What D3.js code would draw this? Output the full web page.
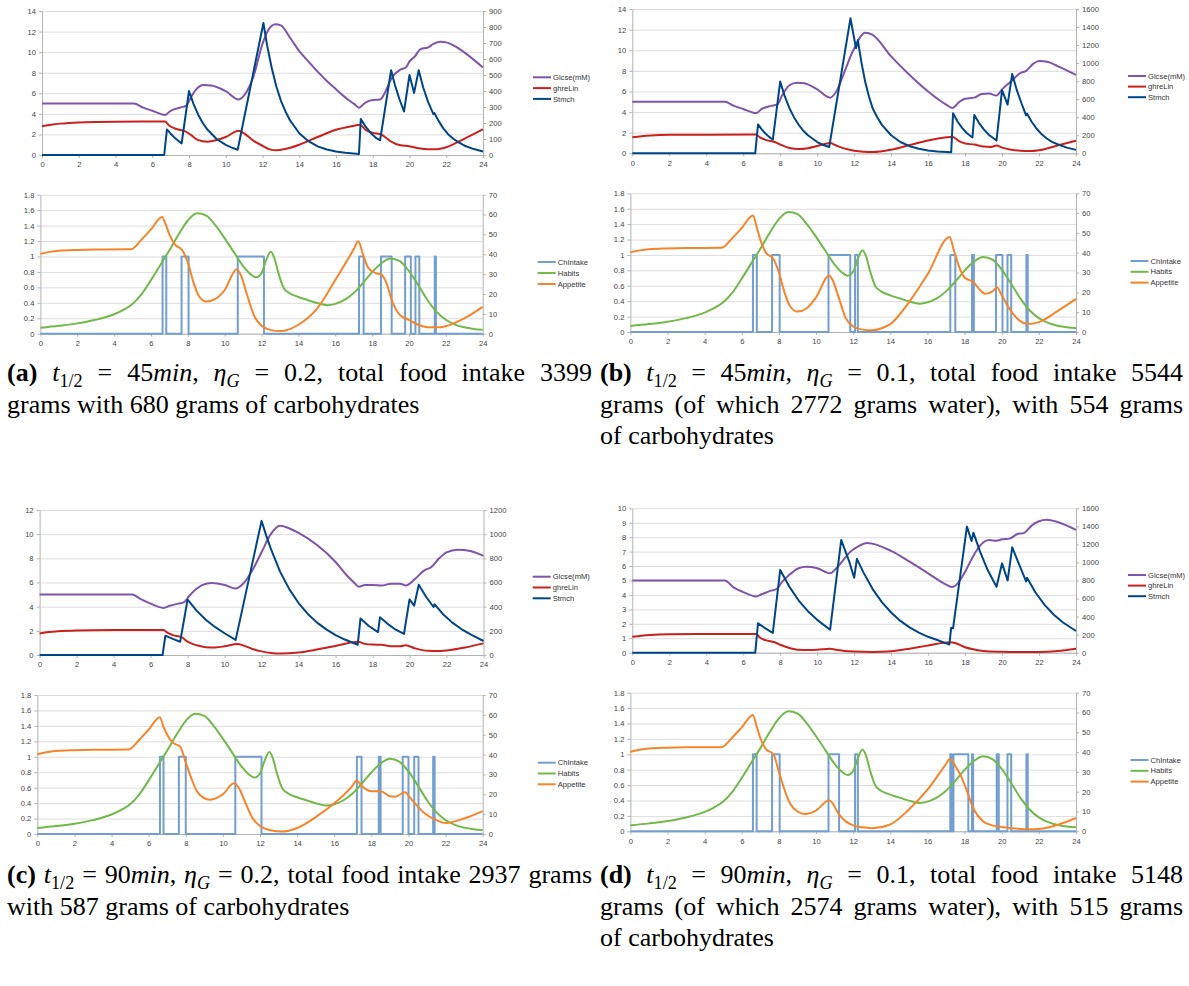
<!DOCTYPE html>
<html>
<head>
<meta charset="utf-8">
<script src="https://cdn.jsdelivr.net/npm/d3@7"></script>
<style>
  body { margin: 0; background: #fff; }
  svg { display: block; }
</style>
</head>
<body>
<svg id="fig" width="1189" height="986"></svg>
<script>
// ---- data (hours, value) ----
var hours = [0, 2, 4, 6, 8, 10, 12, 14, 16, 18, 20, 22, 24];

// axis maxima / steps per panel (a, b, c, d)
var topLeftMax = [14, 14, 12, 10], topLeftStep = [2, 2, 2, 1];
var topRightMax = [900, 1600, 1200, 1600], topRightStep = [100, 200, 200, 200];
var botLeftMax = 1.8, botLeftStep = 0.2, botRightMax = 70, botRightStep = 10;

var topNames = ["Glcse(mM)", "ghreLin", "Stmch"];
var botNames = ["ChIntake", "Habits", "Appetite"];

var glcseA = [[0,5],[5,5],[5.5,4.6],[6,4.3],[6.7,3.9],[7,4.3],[7.5,4.6],[7.85,4.8],[8.1,5.6],[8.4,6.4],[8.8,6.8],[9.2,6.75],[10,6.2],[10.7,5.4],[11,5.8],[11.5,7.6],[12,10.8],[12.3,12.1],[12.7,12.7],[13,12.6],[13.5,11.4],[14,10.1],[14.5,9.1],[15,8.1],[15.5,7.2],[16,6.4],[16.5,5.6],[17,4.95],[17.25,4.6],[17.6,5.1],[18,5.35],[18.4,5.4],[18.7,6.2],[19,7.4],[19.5,8.3],[19.8,8.5],[20,9.1],[20.3,9.6],[20.6,10.3],[21,10.45],[21.3,10.8],[21.7,11.0],[22,10.95],[22.5,10.55],[23,9.95],[24,8.5]];
var ghrelinA = [[0,2.8],[0.5,2.95],[1,3.05],[2,3.17],[3,3.22],[4,3.24],[6.7,3.25],[6.9,2.9],[7.2,2.6],[7.6,2.4],[7.8,2.3],[8.1,1.95],[8.5,1.45],[9,1.3],[9.5,1.45],[10,1.75],[10.7,2.35],[11,2.1],[11.5,1.4],[12,0.9],[12.4,0.55],[12.7,0.45],[13,0.5],[13.5,0.7],[14,1.0],[15,1.75],[16,2.45],[17,2.85],[17.3,2.95],[17.6,2.45],[18,2.15],[18.4,2.05],[18.7,1.7],[19,1.3],[19.5,0.95],[20,0.85],[20.5,0.65],[21,0.55],[21.4,0.55],[22,0.75],[23,1.6],[24,2.5]];
var stmchA = [[0,0],[6.65,0],[6.8,160],[7.0,133],[7.2,110],[7.4,91],[7.6,72],[8.0,400],[8.25,318],[8.5,252],[8.75,200],[9,159],[9.5,100],[10,63],[10.3,48],[10.65,33],[12.05,825],[12.25,686],[12.5,545],[12.75,430],[13,340],[13.25,272],[13.5,216],[14,136],[14.5,86],[15,54],[15.5,34],[16,22],[16.5,14],[17.25,7],[17.35,225],[17.6,179],[17.9,136],[18.2,105],[18.4,92],[19.0,530],[19.2,440],[19.45,350],[19.7,272],[20.0,500],[20.25,388],[20.5,530],[20.75,420],[21.0,335],[21.3,255],[21.35,262],[21.6,210],[21.85,165],[22.1,130],[22.4,100],[22.7,77],[23,58],[23.5,37],[24,22]];

var glcseB = [[0,5],[5,5],[5.5,4.6],[6,4.3],[6.7,3.9],[7,4.3],[7.5,4.6],[7.85,4.75],[8.1,5.6],[8.5,6.6],[8.9,6.85],[9.3,6.8],[10,6.2],[10.7,5.4],[11,5.9],[11.5,8.0],[11.9,9.8],[12.1,10.5],[12.3,11.2],[12.6,11.7],[13,11.5],[14,9.4],[15,7.6],[16,6.0],[17,4.7],[17.3,4.4],[17.7,5.0],[18,5.3],[18.5,5.4],[18.9,5.75],[19.3,5.8],[19.7,5.6],[20,6.2],[20.5,7.0],[21,7.8],[21.3,8.0],[21.7,8.7],[22,8.95],[22.5,8.85],[23,8.45],[24,7.6]];
var ghrelinB = [[0,1.55],[0.5,1.65],[1,1.72],[2,1.79],[4,1.81],[6.7,1.82],[6.9,1.55],[7.2,1.3],[7.7,1.1],[8,0.85],[8.5,0.52],[9,0.42],[9.5,0.5],[10,0.7],[10.7,1.0],[11,0.78],[11.5,0.45],[12,0.25],[12.5,0.15],[13,0.12],[14,0.35],[15,0.8],[16,1.25],[17,1.55],[17.3,1.6],[17.7,1.15],[18,0.95],[18.5,0.85],[19,0.65],[19.4,0.62],[19.7,0.75],[20,0.55],[20.5,0.35],[21,0.25],[21.5,0.22],[22,0.3],[23,0.75],[24,1.22]];
var stmchB = [[0,0],[6.65,0],[6.8,320],[7.0,265],[7.2,220],[7.4,182],[7.6,150],[8.0,795],[8.25,630],[8.5,500],[8.75,398],[9,316],[9.25,250],[9.5,200],[10,125],[10.3,95],[10.65,70],[11.8,1497],[12.1,1165],[12.2,1255],[12.4,1000],[12.6,790],[12.8,630],[13,500],[13.25,400],[13.5,315],[14,200],[14.5,125],[15,79],[15.5,50],[16,31],[16.5,20],[17.25,11],[17.35,443],[17.6,350],[17.85,280],[18.1,222],[18.4,175],[18.5,425],[18.75,338],[19,268],[19.3,203],[19.7,142],[20.0,700],[20.3,540],[20.55,880],[20.8,700],[21.05,555],[21.3,420],[21.35,440],[21.6,350],[21.85,278],[22.1,220],[22.4,167],[22.7,126],[23,100],[23.5,63],[24,38]];

var glcseC = [[0,5],[5,5],[5.5,4.6],[6,4.25],[6.7,3.9],[7,4.05],[7.5,4.25],[7.8,4.35],[8.1,4.9],[8.5,5.5],[9,5.9],[9.3,5.95],[10,5.8],[10.6,5.5],[11,5.9],[11.5,7.0],[12,8.5],[12.5,10.0],[13,10.7],[13.3,10.6],[14,10.1],[15,9.1],[16,7.7],[16.6,6.6],[17,6.0],[17.25,5.65],[17.6,5.8],[18,5.8],[18.5,5.75],[19,5.9],[19.5,5.9],[19.8,5.75],[20.3,6.3],[20.8,7.0],[21.2,7.3],[21.6,8.0],[22,8.5],[22.6,8.72],[23.3,8.6],[24,8.2]];
var ghrelinC = [[0,1.78],[0.5,1.9],[1,1.97],[2,2.03],[4,2.06],[6.7,2.07],[6.9,1.85],[7.2,1.65],[7.7,1.45],[8,1.1],[8.5,0.8],[9,0.65],[9.5,0.63],[10,0.72],[10.7,0.92],[11,0.8],[11.5,0.5],[12,0.3],[12.5,0.17],[13,0.12],[14,0.2],[15,0.45],[16,0.75],[17.2,1.1],[17.6,0.92],[18,0.86],[18.5,0.84],[19,0.72],[19.5,0.72],[19.8,0.8],[20.3,0.55],[21,0.35],[21.5,0.33],[22,0.38],[23,0.62],[24,0.96]];
var stmchC = [[0,0],[6.65,0],[6.8,160],[7.2,133],[7.6,110],[8.0,458],[8.5,365],[9,290],[9.5,230],[10,180],[10.6,125],[12.0,1110],[12.25,990],[12.5,880],[13,690],[13.5,545],[14,430],[14.5,340],[15,268],[15.5,212],[16,165],[16.5,128],[17.2,85],[17.35,303],[17.8,240],[18.3,190],[18.4,312],[18.8,260],[19.2,215],[19.7,174],[20.0,460],[20.25,408],[20.5,582],[20.9,480],[21.3,397],[21.35,420],[21.8,340],[22.3,270],[22.8,215],[23.3,170],[24,116]];

var glcseD = [[0,5],[5,5],[5.5,4.5],[6,4.2],[6.7,3.9],[7,4.05],[7.5,4.3],[7.8,4.4],[8.1,4.9],[8.5,5.4],[9,5.85],[9.4,5.95],[10,5.85],[10.7,5.5],[11,5.8],[11.4,6.4],[11.8,7.0],[12.2,7.35],[12.7,7.6],[13,7.55],[14,7.05],[15,6.3],[16,5.5],[17,4.7],[17.3,4.55],[17.6,4.8],[18,5.6],[18.4,6.6],[18.8,7.4],[19.3,7.8],[19.7,7.75],[20,7.85],[20.4,7.9],[20.8,8.2],[21.2,8.3],[21.6,8.8],[22,9.1],[22.4,9.2],[23,9.05],[24,8.5]];
var ghrelinD = [[0,1.1],[0.5,1.18],[1,1.23],[2,1.27],[4,1.29],[6.7,1.3],[6.9,1.05],[7.2,0.87],[7.7,0.72],[8,0.55],[8.5,0.33],[9,0.2],[9.5,0.18],[10,0.2],[10.7,0.28],[11,0.2],[11.5,0.12],[12,0.08],[13,0.05],[14,0.1],[15,0.28],[16,0.5],[17.2,0.72],[17.5,0.65],[18,0.38],[18.5,0.22],[19,0.12],[20,0.06],[21,0.04],[22,0.05],[23,0.12],[24,0.28]];
var stmchD = [[0,0],[6.65,0],[6.8,325],[7.2,270],[7.6,220],[8.0,917],[8.5,730],[9,578],[9.5,460],[10,364],[10.7,255],[11.3,1250],[11.5,1140],[11.75,1000],[12.0,830],[12.15,1040],[12.5,890],[13,705],[13.5,560],[14,445],[14.5,352],[15,280],[15.5,222],[16,176],[16.5,140],[17.15,90],[17.25,277],[17.35,270],[18.1,1397],[18.35,1238],[18.45,1330],[18.8,1125],[19.2,925],[19.7,730],[20.0,990],[20.3,800],[20.55,1168],[20.9,990],[21.3,790],[21.35,830],[21.8,670],[22.3,530],[22.8,420],[23.3,335],[24,240]];

// habits curve is the same in all four runs
var habits = [[0,3.0],[1,4.0],[2,5.2],[3,7.0],[4,9.8],[4.5,12],[5,15],[5.5,20],[6,27],[6.5,34.5],[7,42],[7.5,50],[8,57],[8.5,60.6],[9,59.5],[9.5,54.5],[10,48],[10.5,41],[11,34],[11.4,30],[11.7,28.4],[12,30.5],[12.25,37],[12.5,41.3],[12.7,38],[12.9,31],[13.2,23],[13.5,20.5],[14,18.5],[14.5,17],[15,15.5],[15.6,14.3],[16,15],[16.5,17],[17,20.5],[17.5,25.5],[18,31],[18.5,35.5],[19,37.9],[19.5,36.5],[20,31.5],[20.5,24.5],[21,17],[21.5,11],[22,7],[22.5,4.6],[23,3.2],[23.5,2.4],[24,2.0]];

var appetiteA = [[0,40.2],[0.5,41.2],[1,41.8],[2,42.2],[3,42.4],[4.9,42.5],[5.5,47.5],[6,52.5],[6.6,58.8],[6.8,55],[7,50],[7.3,45],[7.7,42],[8,36],[8.3,26],[8.6,19],[9,16.2],[9.5,17.5],[10,22],[10.65,32.5],[10.9,29],[11.2,20],[11.6,9],[12,4],[12.5,1.8],[13,1.3],[13.5,2.2],[14,4.5],[15,12.5],[16,27],[17,42.5],[17.25,46.5],[17.5,40],[17.8,33],[18.2,30.5],[18.5,29.8],[18.8,25],[19.1,16],[19.5,9.5],[20,7],[20.5,4.5],[21,3.3],[21.5,3.2],[22,3.8],[23,7.7],[24,13.5]];
var appetiteB = [[0,40.2],[0.5,41.2],[1,41.8],[2,42.2],[3,42.4],[4.9,42.5],[5.5,47.5],[6,52.5],[6.6,58.8],[6.8,53],[7,46.5],[7.3,40],[7.7,37],[8,30],[8.3,20],[8.6,13],[9,10.3],[9.5,12],[10,17.5],[10.7,28.5],[10.9,26],[11.2,18],[11.6,7],[12,2.8],[12.5,1.2],[13,0.9],[13.5,1.8],[14,4],[15,15],[16,29],[17.2,48],[17.4,42],[17.7,33],[18,27.5],[18.5,25],[18.8,21.5],[19.1,19.3],[19.5,20.5],[19.75,22.5],[20,18.5],[20.5,10.5],[21,5.5],[21.4,4],[22,5],[23,10.5],[24,16.7]];
var appetiteC = [[0,40.2],[0.5,41.2],[1,41.8],[2,42.2],[3,42.4],[4.9,42.5],[5.5,47.5],[6,52.5],[6.6,58.8],[6.8,54],[7,50],[7.3,46],[7.7,44],[8,36],[8.3,28],[8.6,21.5],[9,18],[9.3,17.3],[10,20],[10.6,25.5],[10.9,22.5],[11.2,16],[11.6,8],[12,4],[12.5,2],[13.2,1.2],[14,3],[15,8.5],[16,15.5],[17,24.5],[17.2,27],[17.5,24],[18,21.5],[18.5,21.5],[19,19],[19.3,18.8],[19.8,21],[20.2,17],[20.8,11],[21.5,7],[22,5.5],[23,7.8],[24,11.5]];
var appetiteD = [[0,40.2],[0.5,41.2],[1,41.8],[2,42.2],[3,42.4],[4.9,42.5],[5.5,47.5],[6,52.5],[6.6,58.8],[6.8,53],[7,47],[7.3,41.5],[7.7,39],[8,30],[8.3,21],[8.6,14],[9,10],[9.4,8.8],[10,10.5],[10.7,15.7],[10.9,14],[11.2,9],[11.6,5],[12,3],[12.5,2],[13,1.6],[14,3.5],[15,11],[16,21],[17,34],[17.2,36.5],[17.5,33],[17.8,28],[18.1,21],[18.5,11],[19,5],[19.5,3],[20,2.2],[21,1.2],[21.5,1.0],[22,1.2],[23,3.2],[24,6.7]];

// eating periods (ChIntake = 1 between start and end hours)
var intakeA = [[6.63,6.83],[7.66,8.04],[10.71,12.13],[17.29,17.54],[18.48,19.06],[19.79,20.1],[20.35,20.56],[21.4,21.46]];
var intakeB = [[6.6,6.81],[7.63,8.04],[10.67,11.84],[12.1,12.25],[17.23,17.5],[18.4,18.5],[19.69,20.04],[20.31,20.51],[21.33,21.4]];
var intakeC = [[6.61,6.8],[7.63,8.0],[10.67,12.08],[17.22,17.47],[18.4,18.5],[19.69,20.0],[20.31,20.54],[21.33,21.41]];
var intakeD = [[6.6,6.8],[7.63,8.04],[10.67,11.24],[12.1,12.25],[17.23,17.3],[17.4,18.2],[18.4,18.46],[19.73,19.84],[20.31,20.51],[21.33,21.4]];

// captions: #bold#, *italic*, _{subscript}
var captionA = ["#(a)# *t*_{1/2} = 45*min*, *η*_{*G*} = 0.2, total food intake 3399", "grams with 680 grams of carbohydrates"];
var captionB = ["#(b)# *t*_{1/2} = 45*min*, *η*_{*G*} = 0.1, total food intake 5544", "grams (of which 2772 grams water), with 554 grams", "of carbohydrates"];
var captionC = ["#(c)# *t*_{1/2} = 90*min*, *η*_{*G*} = 0.2, total food intake 2937 grams", "with 587 grams of carbohydrates"];
var captionD = ["#(d)# *t*_{1/2} = 90*min*, *η*_{*G*} = 0.1, total food intake 5148", "grams (of which 2574 grams water), with 515 grams", "of carbohydrates"];

// ---- drawing ----
var svg = d3.select("#fig");
var colors = {
  "Glcse(mM)": "#7e55a8", "ghreLin": "#c9211e", "Stmch": "#004586",
  "ChIntake": "#729fcf", "Habits": "#72b84a", "Appetite": "#f6842a"
};
var tickFont = "Liberation Sans, Arial, sans-serif";

// turn eating periods into a 0/1 step trace
function steps(periods) {
  var pts = [[0, 0]];
  periods.forEach(function(p) {
    pts.push([p[0], 0], [p[0], 1], [p[1], 1], [p[1], 0]);
  });
  pts.push([24, 0]);
  return pts;
}

function styleAxis(sel) {
  sel.attr("font-family", tickFont).attr("font-size", 7.6);
  sel.select(".domain").attr("stroke", "#b3b3b3");
  sel.selectAll(".tick line").attr("stroke", "#b3b3b3");
  sel.selectAll(".tick text").attr("fill", "#444");
}

function chart(box, lMax, lStep, rMax, rStep, series, leg) {
  var x = d3.scaleLinear().domain([0, 24]).range([box.x0, box.x1]);
  var yl = d3.scaleLinear().domain([0, lMax]).range([box.y1, box.y0]);
  var yr = d3.scaleLinear().domain([0, rMax]).range([box.y1, box.y0]);
  var lt = d3.range(0, lMax + lStep / 2, lStep).map(function(v) { return +v.toFixed(2); });
  var rt = d3.range(0, rMax + rStep / 2, rStep);
  var g = svg.append("g");

  // horizontal grid
  g.append("g")
    .attr("transform", "translate(" + box.x0 + ",0)")
    .call(d3.axisLeft(yl).tickValues(lt).tickSize(-(box.x1 - box.x0)).tickFormat(""))
    .call(function(s) { s.select(".domain").remove(); s.selectAll("line").attr("stroke", "#dddddd"); });

  g.append("g")
    .attr("transform", "translate(" + box.x0 + ",0)")
    .call(d3.axisLeft(yl).tickValues(lt).tickSize(3).tickSizeOuter(0).tickPadding(3).tickFormat(String))
    .call(styleAxis);
  g.append("g")
    .attr("transform", "translate(" + box.x1 + ",0)")
    .call(d3.axisRight(yr).tickValues(rt).tickSize(3).tickSizeOuter(0).tickPadding(3).tickFormat(String))
    .call(styleAxis);
  g.append("g")
    .attr("transform", "translate(0," + box.y1 + ")")
    .call(d3.axisBottom(x).tickValues(hours).tickSize(3).tickSizeOuter(0).tickPadding(4))
    .call(styleAxis);

  series.forEach(function(s) {
    var y = s.right ? yr : yl;
    var line = d3.line()
      .x(function(d) { return x(d[0]); })
      .y(function(d) { return y(d[1]); })
      .curve(s.smooth ? d3.curveMonotoneX : d3.curveLinear);
    g.append("path")
      .datum(s.data)
      .attr("fill", "none")
      .attr("stroke", colors[s.name])
      .attr("stroke-width", 2)
      .attr("stroke-linejoin", "round")
      .attr("d", line);
  });

  // legend
  series.forEach(function(s, i) {
    var yy = leg.y + i * leg.dy;
    g.append("line")
      .attr("x1", leg.x).attr("x2", leg.x + 18)
      .attr("y1", yy).attr("y2", yy)
      .attr("stroke", colors[s.name]).attr("stroke-width", 2);
    g.append("text")
      .attr("x", leg.x + 20).attr("y", yy).attr("dy", "0.35em")
      .attr("font-family", tickFont).attr("font-size", 7.6).attr("fill", "#333")
      .text(s.name);
  });
}

function topSeries(gl, gh, st) {
  return [
    { name: topNames[0], data: gl, smooth: true },
    { name: topNames[1], data: gh, smooth: true },
    { name: topNames[2], data: st, right: true }
  ];
}
function botSeries(intake, app) {
  return [
    { name: botNames[0], data: steps(intake) },
    { name: botNames[1], data: habits, smooth: true, right: true },
    { name: botNames[2], data: app, smooth: true, right: true }
  ];
}

chart({x0: 42, x1: 483, y0: 11, y1: 155}, topLeftMax[0], topLeftStep[0], topRightMax[0], topRightStep[0],
  topSeries(glcseA, ghrelinA, stmchA), {x: 533, y: 77.3, dy: 10.8});
chart({x0: 40.4, x1: 482.7, y0: 194.7, y1: 333.7}, botLeftMax, botLeftStep, botRightMax, botRightStep,
  botSeries(intakeA, appetiteA), {x: 537.7, y: 262, dy: 11});
chart({x0: 632.3, x1: 1076, y0: 9, y1: 153.3}, topLeftMax[1], topLeftStep[1], topRightMax[1], topRightStep[1],
  topSeries(glcseB, ghrelinB, stmchB), {x: 1128, y: 76, dy: 10.6});
chart({x0: 630.4, x1: 1076, y0: 193.3, y1: 332}, botLeftMax, botLeftStep, botRightMax, botRightStep,
  botSeries(intakeB, appetiteB), {x: 1130.5, y: 261, dy: 10.8});
chart({x0: 39.6, x1: 483.5, y0: 510, y1: 655}, topLeftMax[2], topLeftStep[2], topRightMax[2], topRightStep[2],
  topSeries(glcseC, ghrelinC, stmchC), {x: 532.7, y: 576.7, dy: 10.8});
chart({x0: 37.3, x1: 482.7, y0: 695, y1: 834}, botLeftMax, botLeftStep, botRightMax, botRightStep,
  botSeries(intakeC, appetiteC), {x: 537.7, y: 762.7, dy: 10.8});
chart({x0: 632.3, x1: 1076, y0: 508.3, y1: 652.7}, topLeftMax[3], topLeftStep[3], topRightMax[3], topRightStep[3],
  topSeries(glcseD, ghrelinD, stmchD), {x: 1128, y: 575, dy: 10.6});
chart({x0: 630.4, x1: 1076, y0: 692.7, y1: 831.3}, botLeftMax, botLeftStep, botRightMax, botRightStep,
  botSeries(intakeD, appetiteD), {x: 1130.5, y: 760, dy: 10.8});

// ---- captions (justified like the LaTeX source) ----
var capSize = 26, capGap = 31.5;

function parseWord(w) {
  var runs = [], b = false, it = false, sub = false, buf = "";
  function flush() { if (buf) { runs.push({t: buf, b: b, i: it, s: sub}); buf = ""; } }
  for (var k = 0; k < w.length; k++) {
    var c = w[k];
    if (c === "#") { flush(); b = !b; }
    else if (c === "*") { flush(); it = !it; }
    else if (c === "_" && w[k + 1] === "{") { flush(); sub = true; k++; }
    else if (c === "}" && sub) { flush(); sub = false; }
    else buf += c;
  }
  flush();
  return runs;
}

function caption(lines, x0, width, y0) {
  lines.forEach(function(line, li) {
    var y = y0 + li * capGap;
    var last = li === lines.length - 1;
    var nodes = line.split(" ").map(function(w) {
      var t = svg.append("text").attr("y", y)
        .attr("font-family", "Liberation Serif, Times New Roman, serif")
        .attr("font-size", capSize).attr("fill", "#000");
      var inSub = false;
      parseWord(w).forEach(function(r) {
        var ts = t.append("tspan").text(r.t);
        if (r.b) ts.attr("font-weight", "bold");
        if (r.i) ts.attr("font-style", "italic");
        if (r.s) ts.attr("font-size", capSize * 0.7);
        if (r.s && !inSub) ts.attr("dy", capSize * 0.22);
        if (!r.s && inSub) ts.attr("dy", -capSize * 0.22);
        inSub = r.s;
      });
      return t;
    });
    var widths = nodes.map(function(n) { return n.node().getComputedTextLength(); });
    var total = d3.sum(widths);
    var gap = last ? capSize * 0.25 : (width - total) / (nodes.length - 1);
    var xx = x0;
    nodes.forEach(function(n, i) {
      n.attr("x", xx);
      xx += widths[i] + gap;
    });
  });
}

caption(captionA, 7, 585, 381);
caption(captionB, 600, 583, 381);
caption(captionC, 7, 585, 883);
caption(captionD, 600, 583, 883);
</script>
</body>
</html>
